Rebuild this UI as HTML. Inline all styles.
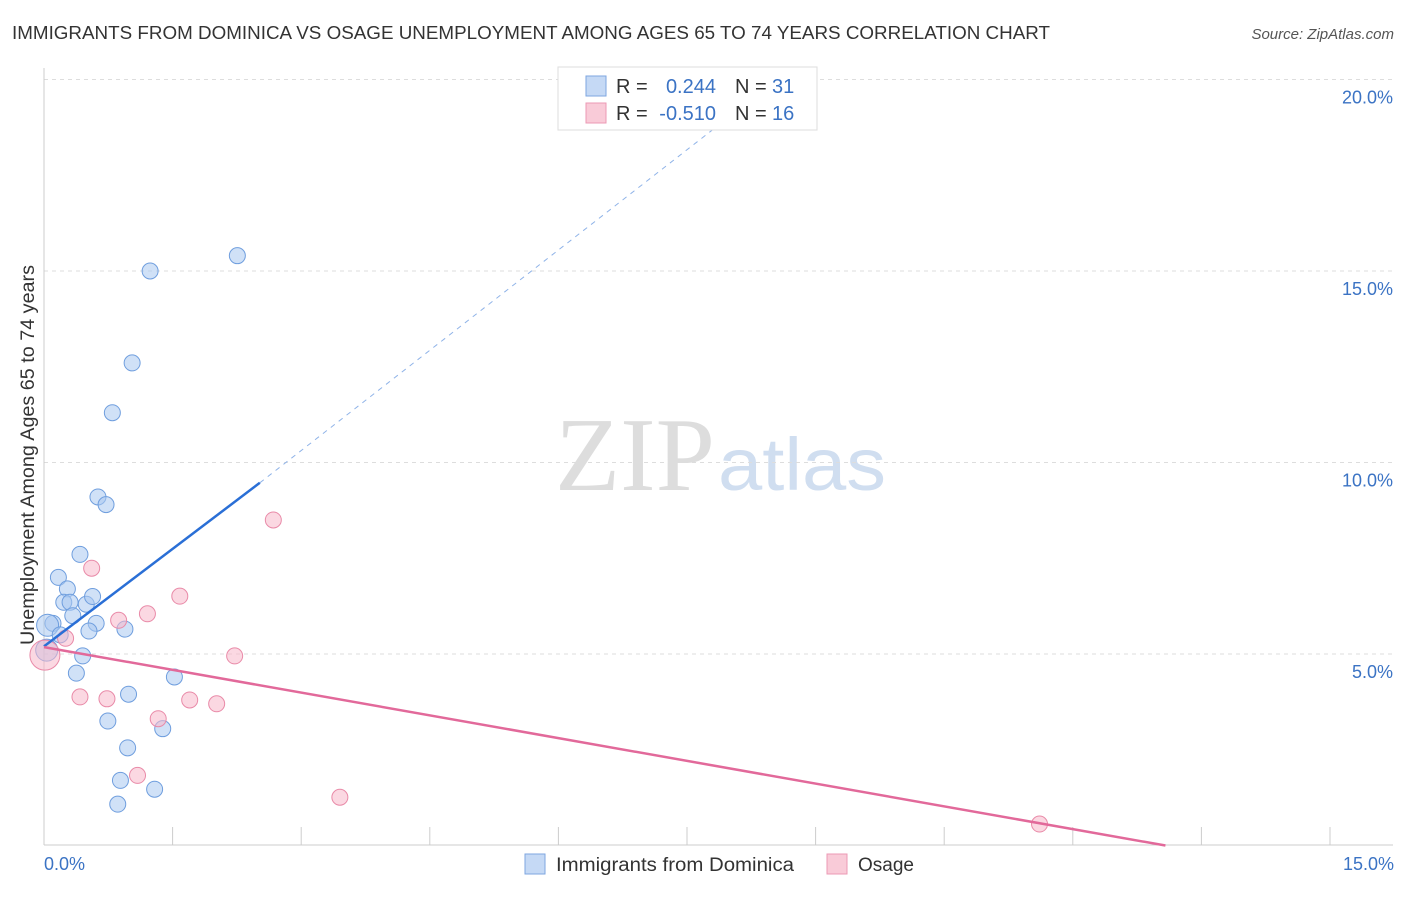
<!DOCTYPE html>
<html><head><meta charset="utf-8"><style>
body{margin:0;background:#fff;font-family:"Liberation Sans",sans-serif;}
</style></head><body>
<svg width="1406" height="892" viewBox="0 0 1406 892" xmlns="http://www.w3.org/2000/svg">
<text x="12" y="39" font-size="18" fill="#333" textLength="1038" lengthAdjust="spacingAndGlyphs">IMMIGRANTS FROM DOMINICA VS OSAGE UNEMPLOYMENT AMONG AGES 65 TO 74 YEARS CORRELATION CHART</text>
<text x="1394" y="39" font-size="15" fill="#555" font-style="italic" text-anchor="end">Source: ZipAtlas.com</text>
<text x="555" y="490" font-size="105" fill="#ddd" font-family="Liberation Serif" textLength="160" lengthAdjust="spacingAndGlyphs">ZIP</text>
<text x="718" y="490" font-size="74" fill="#d0def0" textLength="168" lengthAdjust="spacingAndGlyphs">atlas</text>
<g id="grid"></g><g id="axes"></g><g id="marks"></g>
<text transform="translate(34,455) rotate(-90)" font-size="19" fill="#333" text-anchor="middle" textLength="380" lengthAdjust="spacingAndGlyphs">Unemployment Among Ages 65 to 74 years</text>
<text x="44" y="870" font-size="18" fill="#3b73c4">0.0%</text>
<text x="1394" y="870" font-size="18" fill="#3b73c4" text-anchor="end">15.0%</text>
<g>
<rect x="558" y="67" width="259" height="63" fill="#fff" stroke="#ddd"/>
<rect x="586" y="76" width="20" height="20" fill="#c5d9f5" stroke="#7ea6e0"/>
<rect x="586" y="103" width="20" height="20" fill="#f9cbd8" stroke="#ec9ab4"/>
<text x="616" y="93" font-size="20" fill="#333">R =</text>
<text x="716" y="93" font-size="20" fill="#3b73c4" text-anchor="end">0.244</text>
<text x="735" y="93" font-size="20" fill="#333">N =</text>
<text x="772" y="93" font-size="20" fill="#3b73c4">31</text>
<text x="616" y="120" font-size="20" fill="#333">R =</text>
<text x="716" y="120" font-size="20" fill="#3b73c4" text-anchor="end">-0.510</text>
<text x="735" y="120" font-size="20" fill="#333">N =</text>
<text x="772" y="120" font-size="20" fill="#3b73c4">16</text>
</g>
<g>
<rect x="525" y="854" width="20" height="20" fill="#c5d9f5" stroke="#7ea6e0"/>
<text x="556" y="871" font-size="19" fill="#333" textLength="238" lengthAdjust="spacingAndGlyphs">Immigrants from Dominica</text>
<rect x="827" y="854" width="20" height="20" fill="#f9cbd8" stroke="#ec9ab4"/>
<text x="858" y="871" font-size="19" fill="#333">Osage</text>
</g>
</svg>
<script>
const yTicks=[5,10,15,20];
const yTickLabels=["5.0%","10.0%","15.0%","20.0%"];
const xTicks=[0,1.43,2.86,4.29,5.72,7.15,8.58,10.01,11.44,12.87,14.3];
const blueX=[1.18,2.15,0.98,0.76,0.6,0.69,0.4,0.16,0.26,0.22,0.29,0.47,0.54,0.32,0.58,0.5,0.9,0.1,0.04,0.18,0.43,0.03,0.36,1.45,0.94,0.71,1.32,0.93,0.85,1.23,0.82];
const blueY=[15.0,15.4,12.6,11.3,9.1,8.9,7.6,7.0,6.7,6.35,6.35,6.3,6.5,6.0,5.8,5.6,5.65,5.8,5.75,5.5,4.95,5.1,4.5,4.4,3.95,3.25,3.05,2.55,1.7,1.47,1.08];
const pinkX=[0.01,0.24,0.53,0.83,1.15,1.51,2.55,2.12,0.4,0.7,1.62,1.92,1.27,1.04,3.29,11.07];
const pinkY=[4.97,5.41,7.24,5.88,6.05,6.51,8.5,4.95,3.88,3.83,3.8,3.7,3.31,1.83,1.26,0.56];
const blueTrend=[[0,5.2],[2.4,9.47],[8.07,19.85]];
const pinkTrend=[[0,5.18],[12.47,0]];
const X=v=>44+v*89.93, Y=v=>845.5-v*38.3;
const NS="http://www.w3.org/2000/svg";
function mk(t,a,p){const e=document.createElementNS(NS,t);for(const k in a)e.setAttribute(k,a[k]);document.getElementById(p).appendChild(e);return e;}
yTicks.forEach((v,i)=>{
 const l=mk('line',{x1:44,x2:1393,y1:Y(v),y2:Y(v),stroke:'#ddd','stroke-dasharray':'4,4'},'grid');
 
 
 const t=mk('text',{x:1393,y:Y(v)+24,'font-size':18,fill:'#3b73c4','text-anchor':'end'},'axes');t.textContent=yTickLabels[i];
 
 
});
const ax=mk('line',{x1:44,x2:44,y1:68,y2:845,stroke:'#ccc'},'axes');


const bx=mk('line',{x1:44,x2:1393,y1:845,y2:845,stroke:'#ccc'},'axes');


xTicks.forEach(v=>{const t=mk('line',{x1:X(v),x2:X(v),y1:827,y2:845,stroke:'#ccc'},'axes');
 
 });
function dot(x,y,f,s,r,n){const c=mk('circle',{cx:X(x),cy:Y(y),r:r,fill:f,'fill-opacity':0.55,stroke:s,'stroke-width':1},'marks');
 
 }
blueX.forEach((x,i)=>dot(x,blueY[i],'#aac8f0','#6f9ede',x<0.05?11:8,'dominica-point'));
pinkX.forEach((x,i)=>dot(x,pinkY[i],'#f7b8cb','#e98aa8',i==0?15:8,'osage-point'));
let l1=mk('line',{x1:X(blueTrend[0][0]),y1:Y(blueTrend[0][1]),x2:X(blueTrend[1][0]),y2:Y(blueTrend[1][1]),stroke:'#2a6fd6','stroke-width':2.5},'marks');


let l2=mk('line',{x1:X(blueTrend[1][0]),y1:Y(blueTrend[1][1]),x2:X(blueTrend[2][0]),y2:Y(blueTrend[2][1]),stroke:'#8fb3e8','stroke-width':1,'stroke-dasharray':'5,5'},'marks');


let l3=mk('line',{x1:X(pinkTrend[0][0]),y1:Y(pinkTrend[0][1]),x2:X(pinkTrend[1][0]),y2:Y(pinkTrend[1][1]),stroke:'#e2699a','stroke-width':2.5},'marks');


</script>
</body></html>
